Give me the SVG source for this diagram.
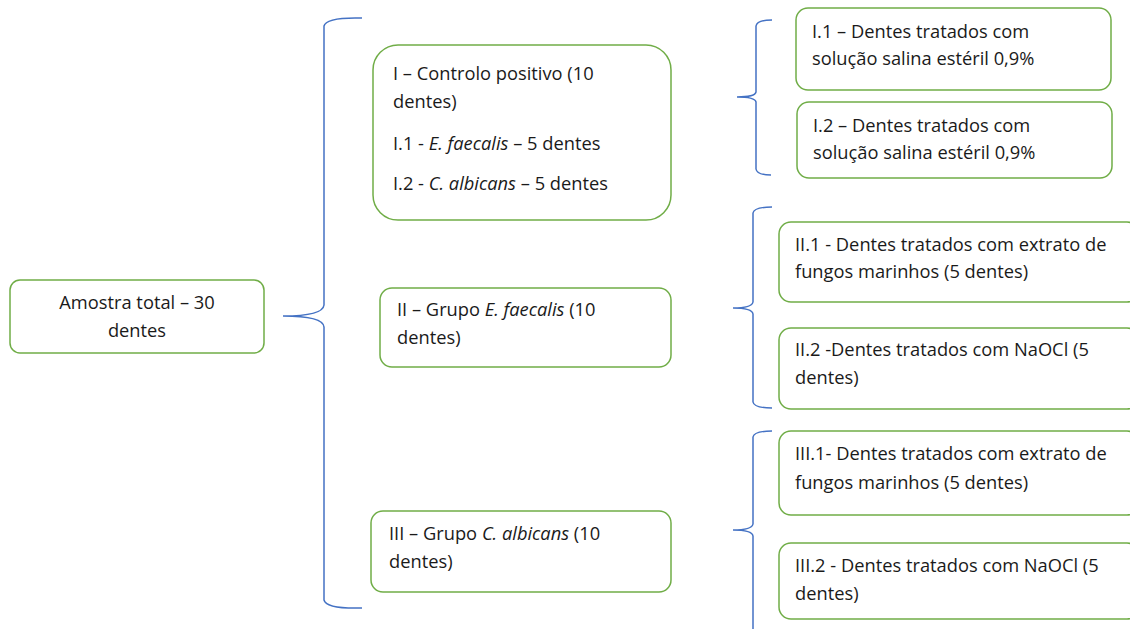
<svg xmlns="http://www.w3.org/2000/svg" width="1130" height="629" viewBox="0 0 1130 629">
<style>
.box{fill:#fff;stroke:#70AD47;stroke-width:1.5}
.br{fill:none;stroke:#4472C4;stroke-width:1.5}
text{font-family:"Open Sans","Liberation Sans",Arial,sans-serif;font-size:18.3px;fill:#1a1a1a}
.c{text-anchor:middle}
</style>
<rect width="1130" height="629" fill="#fff"/>
<g id="connectors">
<path class="br" d="M362 18 Q326 17 324 26 L324 305 Q323 316 283 316 Q323 316 324 327 L324 600 Q326 609 362 608"/>
<path class="br" d="M772 20 Q757 20 756 26 L756 92 Q755 97 737 97 Q755 97 756 102 L756 169 Q757 175 771 175"/>
<path class="br" d="M772 207 Q754 207 753 213 L753 302 Q752 308 733 308 Q752 308 753 314 L753 402 Q754 408 772 408"/>
<path class="br" d="M772 431 Q754 431 753 437 L753 524 Q752 530 733 530 Q752 530 753 536 L753 640"/>
</g>
<g id="n-total">
<rect class="box" x="10" y="280" width="254" height="73" rx="10"/>
<text class="c" x="137" y="309">Amostra total – 30</text>
<text class="c" x="137" y="337">dentes</text>
</g>
<g id="n-I">
<rect class="box" x="373" y="45" width="298" height="175" rx="25"/>
<text x="393" y="80">I – Controlo positivo (10</text>
<text x="393" y="108">dentes)</text>
<text x="393" y="150">I.1 - <tspan font-style="italic">E. faecalis</tspan> – 5 dentes</text>
<text x="393" y="190">I.2 - <tspan font-style="italic">C. albicans</tspan> – 5 dentes</text>
</g>
<g id="n-II">
<rect class="box" x="380" y="288" width="291" height="79" rx="12"/>
<text x="397" y="316">II – Grupo <tspan font-style="italic">E. faecalis</tspan> (10</text>
<text x="397" y="344">dentes)</text>
</g>
<g id="n-III">
<rect class="box" x="371" y="511" width="300" height="81" rx="12"/>
<text x="389" y="540">III – Grupo <tspan font-style="italic">C. albicans</tspan> (10</text>
<text x="389" y="568">dentes)</text>
</g>
<g id="n-I1">
<rect class="box" x="796" y="8" width="315" height="82" rx="12"/>
<text x="812" y="38">I.1 – Dentes tratados com</text>
<text x="812" y="65">solução salina estéril 0,9%</text>
</g>
<g id="n-I2">
<rect class="box" x="797" y="102" width="315" height="76" rx="12"/>
<text x="813" y="132">I.2 – Dentes tratados com</text>
<text x="813" y="159">solução salina estéril 0,9%</text>
</g>
<g id="n-II1">
<rect class="box" x="779" y="222" width="360" height="80" rx="12"/>
<text x="795" y="251">II.1 - Dentes tratados com extrato de</text>
<text x="795" y="278">fungos marinhos (5 dentes)</text>
</g>
<g id="n-II2">
<rect class="box" x="779" y="328" width="360" height="81" rx="12"/>
<text x="795" y="356">II.2 -Dentes tratados com NaOCl (5</text>
<text x="795" y="384">dentes)</text>
</g>
<g id="n-III1">
<rect class="box" x="779" y="431" width="360" height="84" rx="12"/>
<text x="795" y="460">III.1- Dentes tratados com extrato de</text>
<text x="795" y="489">fungos marinhos (5 dentes)</text>
</g>
<g id="n-III2">
<rect class="box" x="779" y="543" width="360" height="76" rx="12"/>
<text x="795" y="572">III.2 - Dentes tratados com NaOCl (5</text>
<text x="795" y="600">dentes)</text>
</g>
</svg>
